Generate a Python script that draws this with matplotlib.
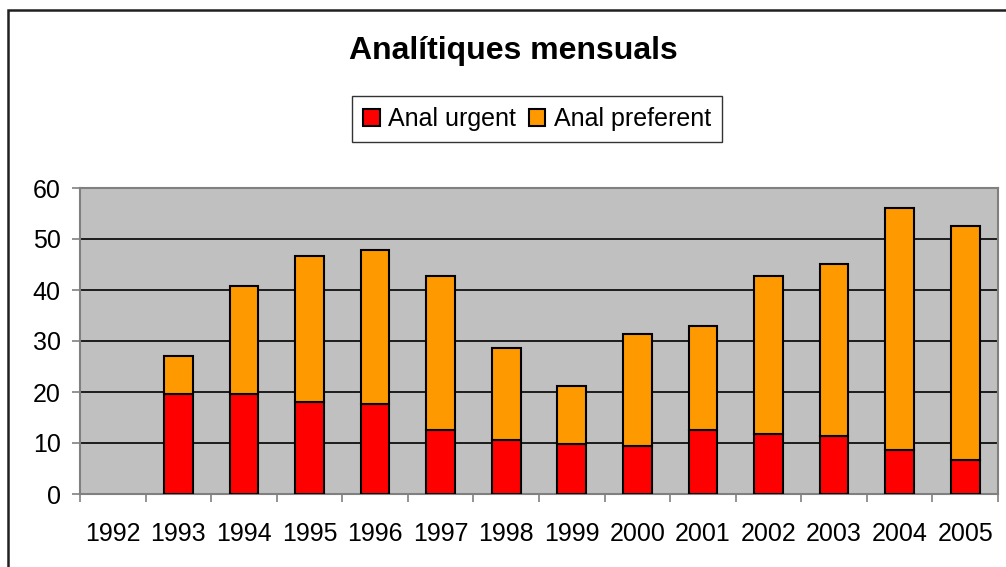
import numpy as np
import matplotlib.pyplot as plt
from matplotlib.patches import Rectangle

plt.rcParams['font.family'] = ['Liberation Sans', 'DejaVu Sans']

years = ['1992', '1993', '1994', '1995', '1996', '1997', '1998',
         '1999', '2000', '2001', '2002', '2003', '2004', '2005']
urgent = [0, 19.6, 19.6, 18.0, 17.6, 12.6, 10.5, 9.75, 9.4, 12.6, 11.7, 11.4, 8.6, 6.7]
total = [0, 27.1, 40.8, 46.7, 47.8, 42.7, 28.6, 21.1, 31.3, 32.9, 42.7, 45.1, 56.1, 52.6]
preferent = [t - u for t, u in zip(total, urgent)]

fig = plt.figure(figsize=(10.06, 5.67), dpi=100)
ax = fig.add_axes([80 / 1006, 73 / 567, 918 / 1006, 306 / 567])
ax.set_facecolor('#c0c0c0')

x = np.arange(len(years))
# 1992 has no data, so skip the empty bar
mask = np.array(total) > 0
u = np.array(urgent)[mask]
p = np.array(preferent)[mask]
b1 = ax.bar(x[mask], u, width=0.44, color='#ff0000', edgecolor='black', linewidth=1.5,
            label='Anal urgent', zorder=3)
b2 = ax.bar(x[mask], p, bottom=u, width=0.44, color='#ff9900', edgecolor='black',
            linewidth=1.5, label='Anal preferent', zorder=3)

ax.set_xlim(-0.5, len(years) - 0.5)
ax.set_ylim(0, 60)
ax.set_yticks(range(0, 61, 10))
ax.set_xticks(x)
ax.set_xticklabels(years)
ax.set_xticks(np.arange(-0.5, len(years), 1), minor=True)
ax.tick_params(axis='x', which='major', length=0, pad=20.5, labelsize=18)
ax.tick_params(axis='x', which='minor', length=6, color='#808080', width=1.2)
ax.tick_params(axis='y', length=6, color='#808080', width=1.2, pad=8, labelsize=18)

ax.yaxis.grid(True, color='black', linewidth=1.2, zorder=1)
ax.set_axisbelow(True)
for s in ax.spines.values():
    s.set_color('#808080')
    s.set_linewidth(1.5)

fig.text(513 / 1006, 1 - 51 / 567, 'Analítiques mensuals', ha='center', va='center',
         fontsize=23, fontweight='bold')

leg = fig.legend(handles=[b1, b2], loc='center', bbox_to_anchor=(537 / 1006, 1 - 119 / 567),
                 ncol=2, fontsize=18, frameon=True, fancybox=False, edgecolor='black',
                 handlelength=0.65, handleheight=0.65, handletextpad=0.35, columnspacing=0.5,
                 borderpad=0.45, borderaxespad=0)
leg.get_frame().set_linewidth(1.0)

fig.patches.append(Rectangle((8 / 1006, -0.2), 1.2, 1.2 - 10 / 567, transform=fig.transFigure,
                             fill=False, edgecolor='#202020', linewidth=1.8))

fig.savefig('out.png', dpi=100)
